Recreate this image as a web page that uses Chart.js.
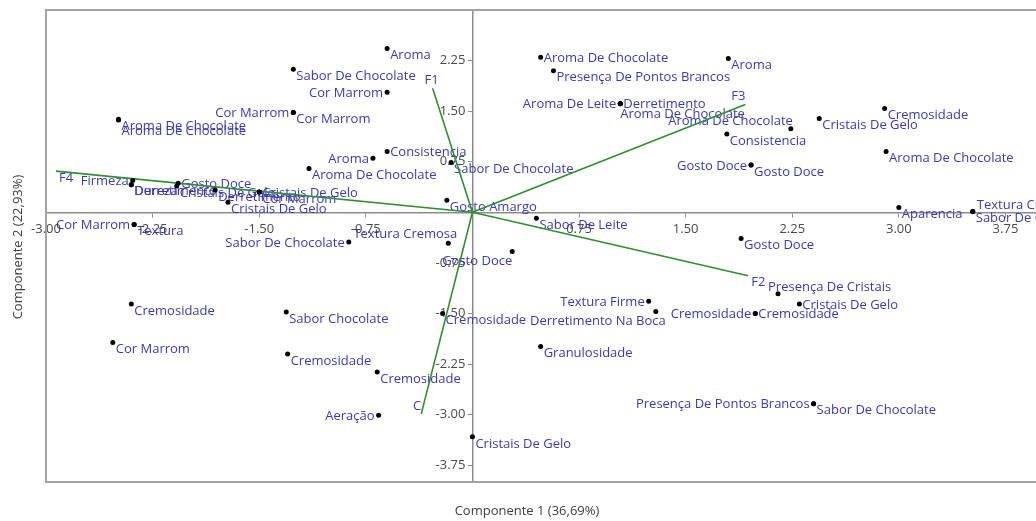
<!DOCTYPE html>
<html>
<head>
<meta charset="utf-8">
<script src="https://cdn.jsdelivr.net/npm/chart.js@4.4.1/dist/chart.umd.min.js"></script>
<style>
  html, body { margin: 0; padding: 0; background: #ffffff; overflow: hidden; }
  #wrap { width: 1060px; height: 521px; }
</style>
</head>
<body>
<div id="wrap"><canvas id="biplot" width="1060" height="521"></canvas></div>
<script>
// Sensory attributes (scores on the first two principal components)
const pointNames = [
  'Aroma', 'Sabor De Chocolate', 'Cor Marrom', 'Cor Marrom', 'Cor Marrom',
  'Aroma De Chocolate', 'Aroma De Chocolate', 'Aroma', 'Consistencia', 'Aroma De Chocolate',
  'Sabor De Chocolate', 'Gosto Amargo', 'Firmeza', 'Derretimento', 'Dureza',
  'Gosto Doce', 'Cristais De Gelo', 'Derretimento', 'Cristais De Gelo', 'Cor Marrom',
  'Cristais De Gelo', 'Cor Marrom', 'Textura', 'Sabor De Chocolate', 'Textura Cremosa',
  'Gosto Doce', 'Sabor De Leite', 'Cremosidade', 'Cor Marrom', 'Sabor Chocolate',
  'Cremosidade', 'Cremosidade', 'Aeração', 'Cremosidade', 'Cristais De Gelo',
  'Granulosidade', 'Textura Firme', 'Derretimento Na Boca', 'Cremosidade', 'Cremosidade',
  'Presença De Cristais', 'Cristais De Gelo', 'Presença De Pontos Brancos', 'Sabor De Chocolate', 'Gosto Doce',
  'Aparencia', 'Textura Cremosa', 'Sabor De Chocolate', 'Aroma De Chocolate', 'Presença De Pontos Brancos',
  'Aroma', 'Aroma De Leite', 'Derretimento', 'Aroma De Chocolate', 'Aroma De Chocolate',
  'Consistencia', 'Cristais De Gelo', 'Cremosidade', 'Aroma De Chocolate', 'Gosto Doce',
  'Gosto Doce'
];
const pointX = [
  -0.60, -1.26, -0.60, -1.26, -1.26,
  -2.49, -2.49, -0.70, -0.60, -1.15,
  -0.15, -0.18, -2.39, -2.40, -2.40,
  -2.07, -2.08, -1.81, -1.50, -1.50,
  -1.72, -2.38, -2.38, -0.87, -0.17,
   0.28,  0.45, -2.40, -2.53, -1.31,
  -1.30, -0.67, -0.66, -0.21,  0.00,
   0.48,  1.24,  1.29,  1.99,  1.99,
   2.15,  2.30,  2.40,  2.40,  1.89,
   3.00,  3.52,  3.52,  0.48,  0.57,
   1.80,  1.04,  1.04,  1.04,  2.24,
   1.79,  2.44,  2.90,  2.91,  1.96,
   1.96
];
const pointY = [
   2.43,  2.12,  1.78,  1.48,  1.48,
   1.38,  1.37,  0.80,  0.90,  0.65,
   0.74,  0.18,  0.47,  0.41,  0.41,
   0.43,  0.39,  0.33,  0.30,  0.30,
   0.15, -0.18, -0.18, -0.44, -0.46,
  -0.58, -0.09, -1.36, -1.93, -1.48,
  -2.10, -2.37, -3.01, -1.50, -3.33,
  -1.99, -1.32, -1.47, -1.50, -1.50,
  -1.21, -1.36, -2.84, -2.84, -0.39,
   0.07,  0.01,  0.01,  2.30,  2.10,
   2.28,  1.61,  1.61,  1.61,  1.24,
   1.16,  1.39,  1.54,  0.90,  0.70,
   0.70
];

// Loading vectors of the factors
const vectorNames = ['F1', 'F3', 'F2', 'F4', 'C'];
const vectorX = [-0.28, 1.92, 1.94, -2.93, -0.36];
const vectorY = [ 1.84, 1.60, -0.94, 0.61, -2.99];

// Axis ticks and titles
const xTicks = [-3.00, -2.25, -1.50, -0.75, 0.75, 1.50, 2.25, 3.00, 3.75];
const yTicks = [2.25, 1.50, 0.75, -0.75, -1.50, -2.25, -3.00, -3.75];
const xTitle = 'Componente 1 (36,69%)';
const yTitle = 'Componente 2 (22,93%)';

// Where each text label sits relative to its dot
const pointLabelSide = [
  'rb','rb','l','l','rb',
  'rb','rb2','l','r','rb',
  'rb','rb','l','rb','rb',
  'r','rb','rb','r','rb',
  'rb','l','rb','l','la2',
  'lb','rb','rb','rb','rb',
  'rb','rb','l','rb','rb',
  'rb','l','lb2','l','r',
  'ra','r','l','rb','rb',
  'rb','ru','rb','r','rb',
  'rb','l','r','b','la',
  'rb','rb','rb','rb','l',
  'rb'
];
const vectorLabelSide = ['a', 'al', 'rb', 'rb', 'al'];

const PLACE = {
  r:   { align: 'left',   dx: 3,   dy: 1 },
  rb:  { align: 'left',   dx: 3,   dy: 7 },
  rb2: { align: 'left',   dx: 3,   dy: 11 },
  ru:  { align: 'left',   dx: 4,   dy: -6 },
  ra:  { align: 'left',   dx: -10, dy: -7 },
  l:   { align: 'right',  dx: -4,  dy: 1 },
  lb:  { align: 'right',  dx: 0,   dy: 10 },
  lb2: { align: 'right',  dx: 10,  dy: 10 },
  la:  { align: 'right',  dx: 2,   dy: -7 },
  la2: { align: 'right',  dx: 9,   dy: -9 },
  b:   { align: 'left',   dx: 0,   dy: 11 },
  a:   { align: 'center', dx: -1,  dy: -8 },
  al:  { align: 'right',  dx: 0,   dy: -8 }
};

const FONT = '"Open Sans", "Noto Sans", sans-serif';
const LABEL_COLOR = '#3a3ab8';
const AXIS_COLOR = '#8c8c8c';
const VECTOR_COLOR = '#2f8f2f';
const Y_LABEL_GAP = 7;

function drawLabel(ctx, xs, ys, x, y, text, side) {
  const p = PLACE[side];
  const px = xs.getPixelForValue(x) + p.dx;
  const py = ys.getPixelForValue(y) + p.dy;
  ctx.textAlign = p.align;
  ctx.fillText(text, px, py);
}

const biplotText = {
  id: 'biplotText',
  beforeDraw(chart) {
    // keep the y tick labels clear of the tick marks on the centred axis
    const ys = chart.scales.y;
    ys.getLabelItems(chart.chartArea).forEach(item => {
      item.options.translation[0] -= Y_LABEL_GAP;
    });
  },
  beforeDatasetsDraw(chart) {
    const ctx = chart.ctx;
    const xs = chart.scales.x, ys = chart.scales.y;
    ctx.save();
    ctx.font = '13px ' + FONT;
    ctx.fillStyle = LABEL_COLOR;
    ctx.textBaseline = 'middle';
    pointNames.forEach((name, i) => drawLabel(ctx, xs, ys, pointX[i], pointY[i], name, pointLabelSide[i]));
    vectorNames.forEach((name, i) => drawLabel(ctx, xs, ys, vectorX[i], vectorY[i], name, vectorLabelSide[i]));
    ctx.restore();
  },
  afterDraw(chart) {
    const ctx = chart.ctx;
    const a = chart.chartArea;
    ctx.save();
    // plot frame
    ctx.strokeStyle = '#a3a3a3';
    ctx.lineWidth = 2;
    ctx.strokeRect(a.left, a.top, a.right - a.left, a.bottom - a.top);
    // axis titles
    ctx.fillStyle = '#404040';
    ctx.font = '13px ' + FONT;
    ctx.textAlign = 'center';
    ctx.textBaseline = 'middle';
    ctx.fillText(xTitle, 527, 511);
    ctx.translate(18, 247);
    ctx.rotate(-Math.PI / 2);
    ctx.fillText(yTitle, 0, 0);
    ctx.restore();
  }
};

const datasets = [{
  type: 'scatter',
  data: pointX.map((x, i) => ({ x: x, y: pointY[i] })),
  pointRadius: 2.5,
  pointBackgroundColor: '#000000',
  pointBorderWidth: 0,
  order: 0
}];
vectorNames.forEach((name, i) => {
  datasets.push({
    type: 'line',
    data: [{ x: 0, y: 0 }, { x: vectorX[i], y: vectorY[i] }],
    borderColor: VECTOR_COLOR,
    borderWidth: 1.6,
    pointRadius: 0,
    fill: false,
    order: 1
  });
});

const tickFont = { family: FONT, size: 13 };

new Chart(document.getElementById('biplot'), {
  type: 'scatter',
  data: { datasets: datasets },
  options: {
    responsive: false,
    animation: false,
    events: [],
    layout: { padding: { left: 46, top: 10, right: 19, bottom: 39 } },
    plugins: { legend: { display: false }, tooltip: { enabled: false } },
    scales: {
      x: {
        type: 'linear', min: -3, max: 4,
        position: { y: 0 },
        afterBuildTicks: s => { s.ticks = xTicks.map(v => ({ value: v })); },
        afterFit: s => { s.height = 0; },
        grid: { drawOnChartArea: false, drawTicks: true, tickLength: 4, color: AXIS_COLOR, lineWidth: 1 },
        border: { display: true, color: AXIS_COLOR, width: 1.5 },
        ticks: { font: tickFont, color: '#4a4a4a', padding: 5, maxRotation: 0, autoSkip: false,
                 callback: v => Number(v).toFixed(2) }
      },
      y: {
        type: 'linear', min: -4, max: 3,
        position: { x: 0 },
        afterBuildTicks: s => { s.ticks = yTicks.map(v => ({ value: v })); },
        afterFit: s => { s.width = 0; },
        grid: { drawOnChartArea: false, drawTicks: true, tickLength: 4, color: AXIS_COLOR, lineWidth: 1 },
        border: { display: true, color: AXIS_COLOR, width: 1.5 },
        ticks: { font: tickFont, color: '#4a4a4a', padding: 2, autoSkip: false,
                 callback: v => Number(v).toFixed(2) }
      }
    }
  },
  plugins: [biplotText]
});
</script>
</body>
</html>
